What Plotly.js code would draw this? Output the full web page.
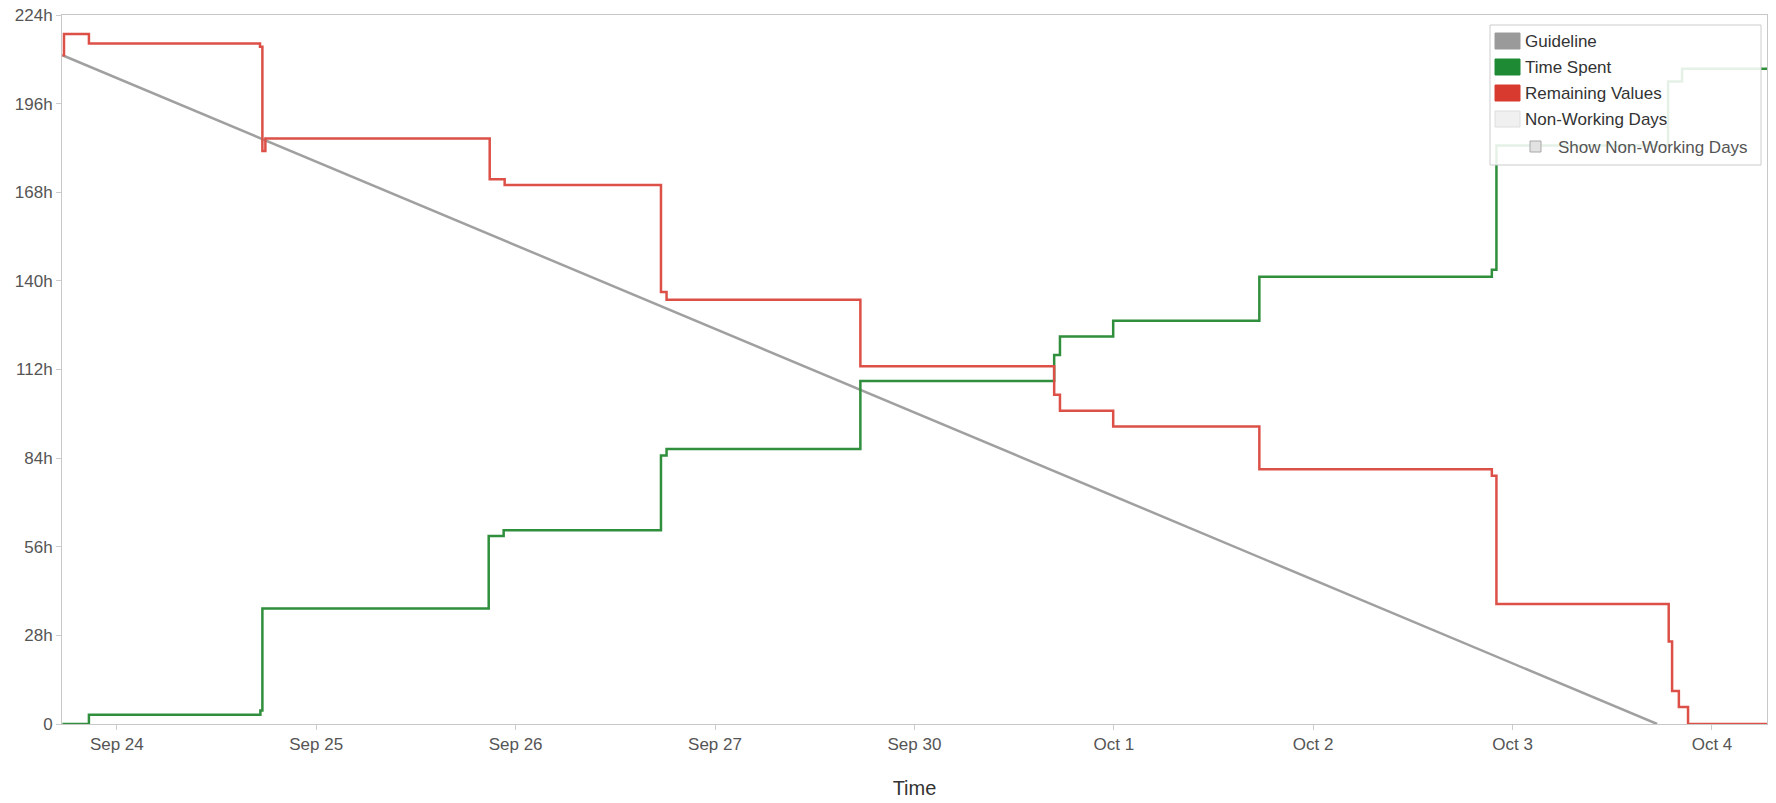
<!DOCTYPE html>
<html>
<head>
<meta charset="utf-8">
<script src="https://cdn.plot.ly/plotly-3.0.1.min.js"></script>
<style>
  html, body { margin: 0; padding: 0; background: #fff; }
  #chart { width: 1776px; height: 803px; }
</style>
</head>
<body>
<div id="chart"></div>
<script>
// ---- Data (x = working-day index; non-working days skipped) ----
const dayLabels = ['Sep 24', 'Sep 25', 'Sep 26', 'Sep 27', 'Sep 30', 'Oct 1', 'Oct 2', 'Oct 3', 'Oct 4'];
const dayIndex = [0, 1, 2, 3, 4, 5, 6, 7, 8];

const yTickVals = [0, 28, 56, 84, 112, 140, 168, 196, 224];
const yTickText = ['0', '28h', '56h', '84h', '112h', '140h', '168h', '196h', '224h'];

const guideX = [-0.273, 7.725];
const guideY = [211.3, 0];

const remainingX = [-0.273, -0.265, -0.14, 0.718, 0.73, 0.745, 1.87, 1.945, 2.729, 2.757, 3.729, 4.701, 4.73, 4.997, 5.73, 6.896, 6.919, 7.783, 7.80, 7.834, 7.88, 8.28];
const remainingY = [211.3, 218, 215, 214, 181, 185, 172.1, 170.3, 136.5, 134, 113, 104, 99, 94, 80.5, 78.4, 37.9, 26.1, 10.4, 5.4, 0, 0];

const spentX = [-0.273, -0.14, 0.72, 0.73, 1.865, 1.94, 2.729, 2.757, 3.729, 4.701, 4.73, 4.997, 5.73, 6.896, 6.919, 7.78, 7.85, 8.28];
const spentY = [0, 2.9, 4.3, 36.5, 59.4, 61.2, 84.8, 86.9, 108.4, 116.6, 122.4, 127.4, 141.3, 143.5, 182.8, 203, 207, 207];

const legendNames = ['Guideline', 'Time Spent', 'Remaining Values', 'Non-Working Days'];
const legendColors = ['#9a9a9a', '#1e8a34', '#d93a30', '#f0f0f0'];
const checkboxLabel = 'Show Non-Working Days';

// ---- Pixel helpers for the hand-drawn legend ----
const PL = 62, PR = 1767, PT = 15, PB = 724;
const fx = px => (px - PL) / (PR - PL);
const fy = py => (PB - py) / (PB - PT);

const traces = [
  { x: guideX, y: guideY, mode: 'lines', line: { color: '#a0a0a0', width: 2.5 }, name: 'Guideline', showlegend: false, hoverinfo: 'skip' },
  { x: spentX, y: spentY, mode: 'lines', line: { color: '#2f8f3c', width: 2.5, shape: 'hv' }, name: 'Time Spent', showlegend: false },
  { x: remainingX, y: remainingY, mode: 'lines', line: { color: '#dc5048', width: 2.5, shape: 'hv' }, name: 'Remaining Values', showlegend: false }
];

const shapes = [];
const annotations = [];

// legend frame
shapes.push({ type: 'rect', xref: 'paper', yref: 'paper', x0: fx(1490), x1: fx(1761), y0: fy(165), y1: fy(25),
  fillcolor: 'rgba(255,255,255,0.88)', line: { color: '#cccccc', width: 1 }, layer: 'above' });

const itemY = [41, 67, 93, 119];
legendNames.forEach((name, i) => {
  shapes.push({ type: 'rect', xref: 'paper', yref: 'paper', x0: fx(1495), x1: fx(1520), y0: fy(itemY[i] + 8), y1: fy(itemY[i] - 8),
    fillcolor: legendColors[i], line: { color: i === 3 ? '#dddddd' : legendColors[i], width: 1 }, layer: 'above' });
  annotations.push({ xref: 'paper', yref: 'paper', x: fx(1523), y: fy(itemY[i]), xanchor: 'left', yanchor: 'middle',
    text: name, showarrow: false, font: { family: 'Liberation Sans, Arial, sans-serif', size: 17, color: '#333333' } });
});
// checkbox
shapes.push({ type: 'rect', xref: 'paper', yref: 'paper', x0: fx(1530), x1: fx(1541), y0: fy(152), y1: fy(141),
  fillcolor: '#e2e2e2', line: { color: '#a8a8a8', width: 1 }, layer: 'above' });
annotations.push({ xref: 'paper', yref: 'paper', x: fx(1556), y: fy(147), xanchor: 'left', yanchor: 'middle',
  text: checkboxLabel, showarrow: false, font: { family: 'Liberation Sans, Arial, sans-serif', size: 17, color: '#555555' } });

const layout = {
  width: 1776, height: 803,
  margin: { l: PL, r: 1776 - PR, t: PT, b: 803 - PB },
  paper_bgcolor: '#ffffff', plot_bgcolor: '#ffffff',
  font: { family: 'Liberation Sans, Arial, sans-serif', color: '#555555' },
  showlegend: false,
  xaxis: {
    range: [-0.275, 8.276],
    tickvals: dayIndex, ticktext: dayLabels,
    showgrid: false, zeroline: false,
    showline: true, mirror: true, linecolor: '#c8c8c8', linewidth: 1,
    ticks: 'outside', ticklen: 5, tickcolor: '#cccccc',
    tickfont: { size: 17, color: '#555555' },
    title: { text: 'Time', font: { size: 20, color: '#333333' }, standoff: 27 }
  },
  yaxis: {
    range: [0, 224],
    tickvals: yTickVals, ticktext: yTickText,
    showgrid: false, zeroline: false,
    showline: true, mirror: true, linecolor: '#c8c8c8', linewidth: 1,
    ticks: 'outside', ticklen: 5, tickcolor: '#cccccc',
    tickfont: { size: 17, color: '#555555' }
  },
  shapes: shapes,
  annotations: annotations
};

Plotly.newPlot('chart', traces, layout, { displayModeBar: false, staticPlot: true });
</script>
</body>
</html>
